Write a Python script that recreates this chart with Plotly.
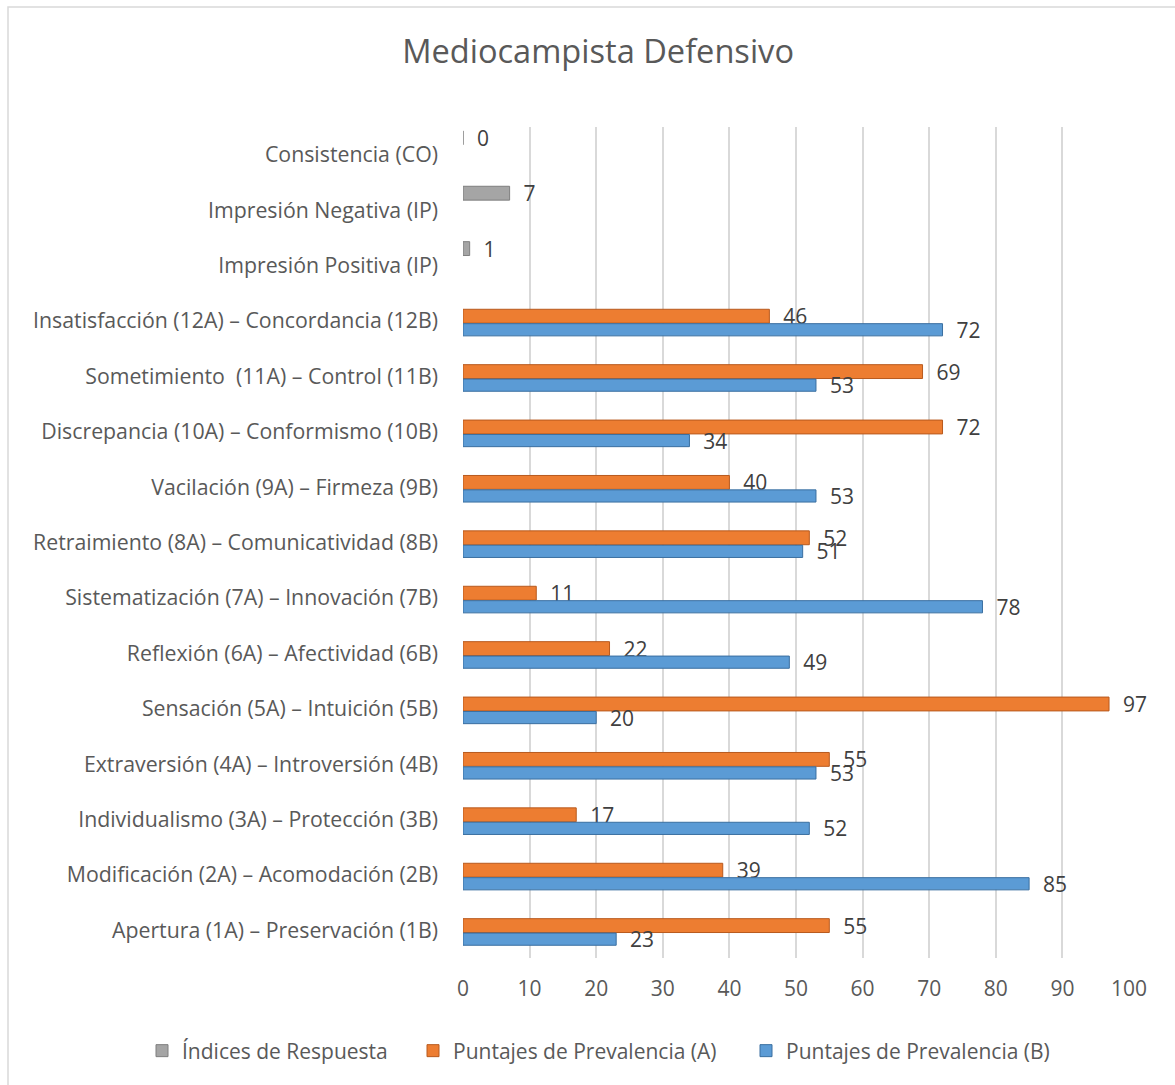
import plotly.graph_objects as go

categories = [
    "Apertura (1A) – Preservación (1B)",
    "Modificación (2A) – Acomodación (2B)",
    "Individualismo (3A) – Protección (3B)",
    "Extraversión (4A) – Introversión (4B)",
    "Sensación (5A) – Intuición (5B)",
    "Reflexión (6A) – Afectividad (6B)",
    "Sistematización (7A) – Innovación (7B)",
    "Retraimiento (8A) – Comunicatividad (8B)",
    "Vacilación (9A) – Firmeza (9B)",
    "Discrepancia (10A) – Conformismo (10B)",
    "Sometimiento  (11A) – Control (11B)",
    "Insatisfacción (12A) – Concordancia (12B)",
]
index_categories = [
    "Impresión Positiva (IP)",
    "Impresión Negativa (IP)",
    "Consistencia (CO)",
]
all_categories = categories + index_categories

puntajes_a = [55, 39, 17, 55, 97, 22, 11, 52, 40, 72, 69, 46]
puntajes_b = [23, 85, 52, 53, 20, 49, 78, 51, 53, 34, 53, 72]
indices_respuesta = [1, 7, 0]

x_ticks = [0, 10, 20, 30, 40, 50, 60, 70, 80, 90, 100]

FONT = "Open Sans"
TXT = "#595959"
LBL = "#404040"
FS = 21

fig = go.Figure()

fig.add_trace(go.Bar(
    name="Índices de Respuesta", legend="legend3", showlegend=True,
    y=index_categories, x=indices_respuesta, orientation="h",
    marker=dict(color="#A5A5A5", line=dict(color="#7F7F7F", width=1)),
    width=0.25, offset=0.18,
    texttemplate="\u00a0\u00a0%{x}",
    textposition="outside", constraintext="none", cliponaxis=False,
    textfont=dict(family=FONT, size=FS, color=LBL),
))
fig.add_trace(go.Bar(
    name="Puntajes de Prevalencia (A)", legend="legend", showlegend=True,
    y=categories, x=puntajes_a, orientation="h",
    marker=dict(color="#ED7D31", line=dict(color="#B85A1E", width=1)),
    width=0.25, offset=-0.04,
    texttemplate="\u00a0\u00a0%{x}",
    textposition="outside", constraintext="none", cliponaxis=False,
    textfont=dict(family=FONT, size=FS, color=LBL),
))
fig.add_trace(go.Bar(
    name="Puntajes de Prevalencia (B)", legend="legend2", showlegend=True,
    y=categories, x=puntajes_b, orientation="h",
    marker=dict(color="#5B9BD5", line=dict(color="#3A6FA0", width=1)),
    width=0.22, offset=-0.27,
    texttemplate="\u00a0\u00a0%{x}",
    textposition="outside", constraintext="none", cliponaxis=False,
    textfont=dict(family=FONT, size=FS, color=LBL),
))


def legend_at(left_px):
    return dict(orientation="h", xref="paper", yref="paper",
                x=(left_px - 463) / 666, xanchor="left",
                y=-(1051 - 958) / 831, yanchor="middle",
                font=dict(family=FONT, size=FS, color=TXT))


fig.update_layout(
    width=1175, height=1085,
    barmode="overlay",
    paper_bgcolor="white", plot_bgcolor="white",
    margin=dict(l=463, r=46, t=127, b=127, autoexpand=False),
    title=dict(text="Mediocampista Defensivo", x=0.509, xanchor="center",
               y=1 - 52 / 1085, yanchor="middle",
               font=dict(family=FONT, size=32.6, color=TXT)),
    font=dict(family=FONT, color=TXT, size=FS),
    xaxis=dict(range=[0, 100], tickvals=x_ticks, showgrid=True,
               gridcolor="#D9D9D9", gridwidth=2, zeroline=False, showline=False,
               ticks="", ticklabelstandoff=16,
               tickfont=dict(family=FONT, size=FS, color=TXT)),
    yaxis=dict(type="category", categoryorder="array", categoryarray=all_categories,
               range=[-0.5, len(all_categories) - 0.5],
               showgrid=False, zeroline=False, showline=False, ticks="",
               ticklabelstandoff=24,
               tickfont=dict(family=FONT, size=21.3, color=TXT)),
    legend3=legend_at(142),
    legend=legend_at(413),
    legend2=legend_at(746),
    shapes=[dict(type="rect", xref="paper", yref="paper",
                 x0=(8 - 463) / 666, x1=(1190 - 463) / 666,
                 y0=-(1100 - 958) / 831, y1=1 + (127 - 7) / 831,
                 line=dict(color="#D9D9D9", width=1.5), layer="below")],
)

fig.write_html("out.html", config={"displayModeBar": False},
               post_script="document.body.style.margin='0';")
